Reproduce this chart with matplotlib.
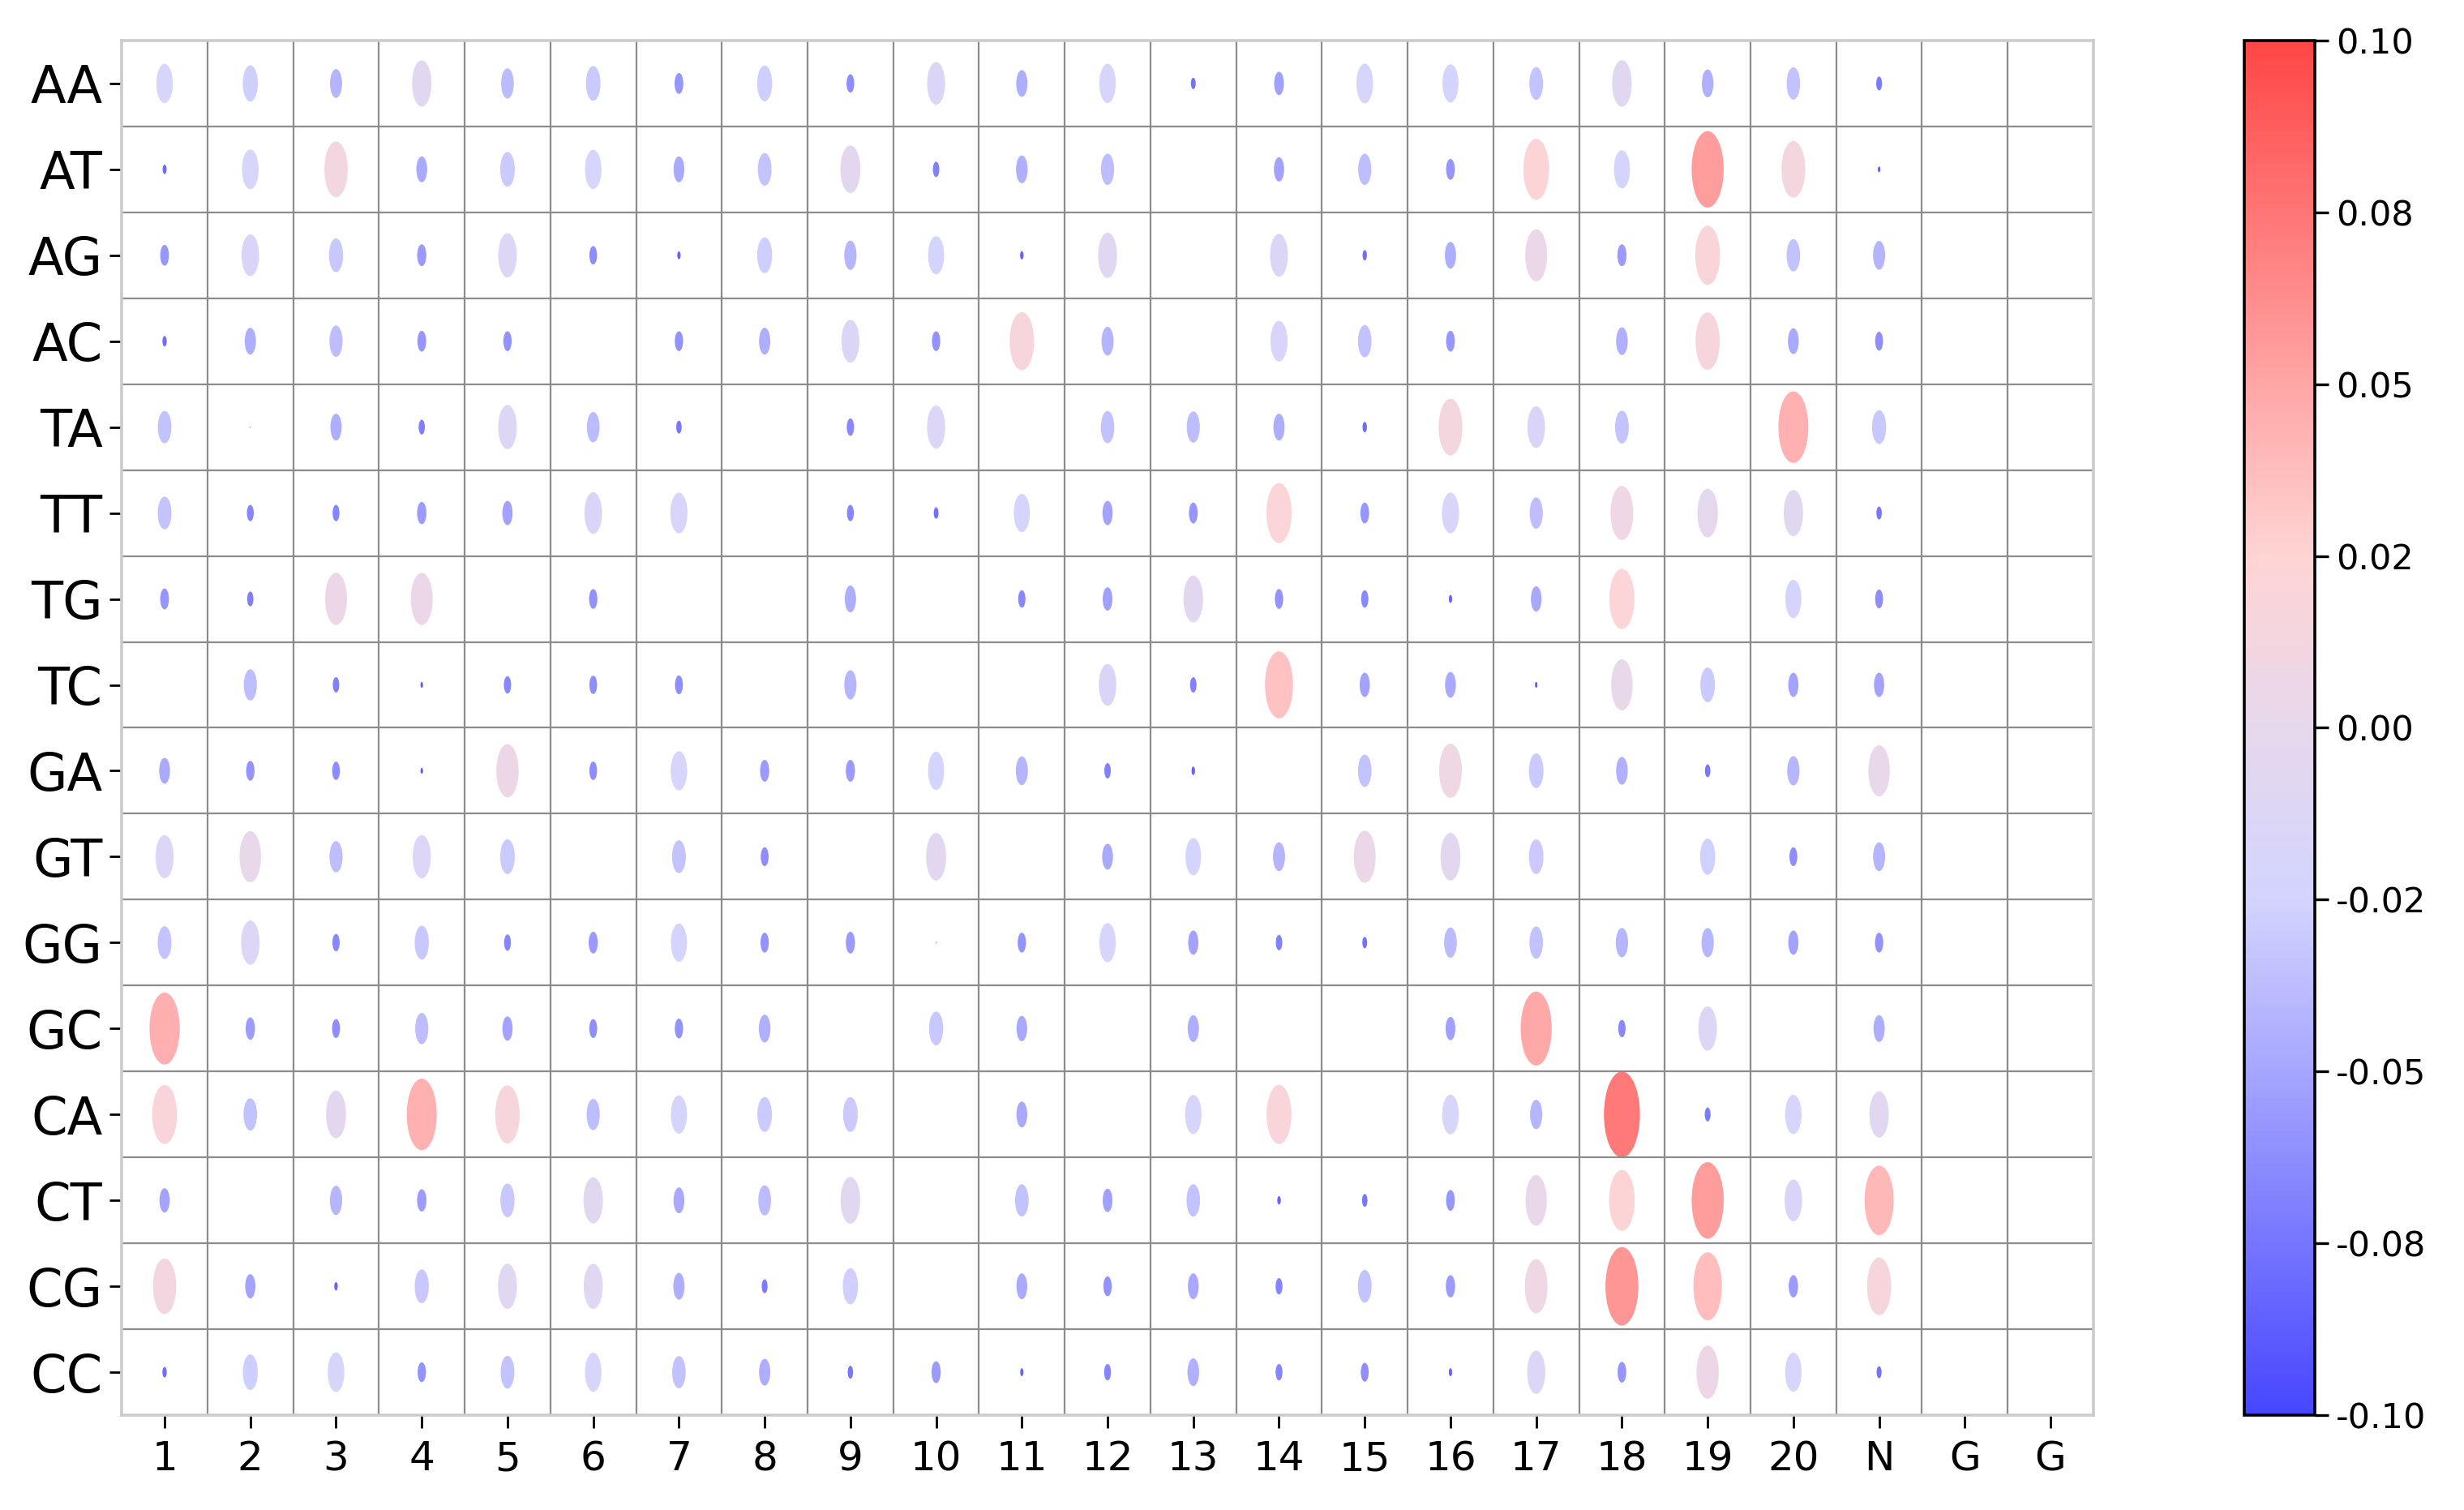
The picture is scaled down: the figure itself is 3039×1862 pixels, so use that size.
import numpy as np
import matplotlib.pyplot as plt
from matplotlib.collections import EllipseCollection
from matplotlib.colors import LinearSegmentedColormap, Normalize
from matplotlib.cm import ScalarMappable

nan = np.nan

row_labels = ['AA', 'AT', 'AG', 'AC', 'TA', 'TT', 'TG', 'TC',
              'GA', 'GT', 'GG', 'GC', 'CA', 'CT', 'CG', 'CC']
col_labels = [str(i) for i in range(1, 21)] + ['N', 'G', 'G']

# values per dinucleotide row, positions 1..20 and N (G G columns are empty)
aa = [-0.021, -0.027, -0.042, -0.007, -0.039, -0.030, -0.058, -0.028, -0.063, -0.014, -0.046,
      -0.021, -0.077, -0.053, -0.020, -0.023, -0.034, -0.006, -0.044, -0.035, -0.072]
at = [-0.081, -0.020, 0.012, -0.048, -0.030, -0.021, -0.048, -0.034, -0.004, -0.069, -0.044,
      -0.037, nan, -0.051, -0.037, -0.058, 0.023, -0.023, 0.054, 0.014, -0.088]
ag = [-0.058, -0.016, -0.032, -0.056, -0.011, -0.063, -0.084, -0.028, -0.041, -0.023, -0.083,
      -0.009, nan, -0.014, -0.079, -0.046, 0.005, -0.056, 0.019, -0.035, -0.042]
ac = [-0.079, -0.046, -0.037, -0.058, -0.060, nan, -0.060, -0.046, -0.014, -0.060, 0.017,
      -0.042, nan, -0.018, -0.035, -0.058, nan, -0.044, 0.016, -0.048, -0.062]
ta = [-0.035, -0.097, -0.046, -0.070, -0.011, -0.039, -0.074, nan, -0.065, -0.013, nan,
      -0.035, -0.037, -0.046, -0.079, 0.014, -0.016, -0.034, nan, 0.044, -0.032]
tt = [-0.034, -0.067, -0.067, -0.055, -0.051, -0.016, -0.018, nan, -0.067, -0.077, -0.023,
      -0.051, -0.058, 0.021, -0.058, -0.018, -0.037, 0.009, -0.002, -0.007, -0.074]
tg = [-0.058, -0.070, 0.005, 0.005, nan, -0.060, nan, nan, -0.046, nan, -0.065,
      -0.053, -0.006, -0.060, -0.065, -0.084, -0.049, 0.021, nan, -0.023, -0.062]
tc = [nan, -0.037, -0.069, -0.088, -0.065, -0.063, -0.062, nan, -0.041, nan, nan,
      -0.016, -0.069, 0.035, -0.051, -0.048, -0.088, 0.003, -0.030, -0.051, -0.051]
ga = [-0.048, -0.060, -0.063, -0.088, 0.007, -0.063, -0.021, -0.056, -0.056, -0.023, -0.042,
      -0.069, -0.083, nan, -0.035, 0.009, -0.030, -0.044, -0.074, -0.041, 0.003]
gt = [-0.013, 0.003, -0.037, -0.013, -0.030, nan, -0.034, -0.062, nan, -0.004, nan,
      -0.048, -0.025, -0.042, 0.005, -0.004, -0.030, nan, -0.027, -0.062, -0.042]
gg = [-0.034, -0.011, -0.065, -0.032, -0.067, -0.056, -0.023, -0.060, -0.056, -0.097, -0.060,
      -0.021, -0.051, -0.069, -0.077, -0.039, -0.035, -0.041, -0.041, -0.051, -0.060]
gc = [0.045, -0.055, -0.062, -0.037, -0.051, -0.062, -0.060, -0.044, nan, -0.032, -0.049,
      nan, -0.046, nan, nan, -0.053, 0.049, -0.065, -0.011, nan, -0.046]
ca = [0.019, -0.035, -0.004, 0.044, 0.017, -0.037, -0.023, -0.030, -0.030, nan, -0.048,
      nan, -0.021, 0.019, nan, -0.020, -0.041, 0.073, -0.072, -0.021, -0.007]
ct = [-0.051, nan, -0.041, -0.055, -0.032, -0.007, -0.048, -0.039, -0.006, nan, -0.035,
      -0.053, -0.035, -0.083, -0.074, -0.058, 0.002, 0.023, 0.054, -0.016, 0.040]
cg = [0.012, -0.051, -0.083, -0.032, -0.009, -0.009, -0.046, -0.072, -0.027, nan, -0.048,
      -0.060, -0.048, -0.067, -0.034, -0.055, 0.009, 0.058, 0.037, -0.055, 0.016]
cc = [-0.079, -0.028, -0.020, -0.060, -0.034, -0.021, -0.035, -0.046, -0.074, -0.056, -0.084,
      -0.067, -0.044, -0.067, -0.062, -0.084, -0.013, -0.058, 0.007, -0.021, -0.076]

cbar_ticks = [-0.10, -0.075, -0.05, -0.025, 0.0, 0.025, 0.05, 0.075, 0.10]
cbar_labels = ['-0.10', '-0.08', '-0.05', '-0.02', '0.00', '0.02', '0.05', '0.08', '0.10']

vals = np.array([aa, at, ag, ac, ta, tt, tg, tc, ga, gt, gg, gc, ca, ct, cg, cc])
vals = np.hstack([vals, np.full((len(row_labels), 2), nan)])

cmap = LinearSegmentedColormap.from_list('bwr_soft', [
    (0.0, '#4646ff'), (0.25, '#a6a6ff'), (0.375, '#d4d4ff'), (0.5, '#e6d8ec'),
    (0.625, '#ffd4d4'), (0.75, '#ffa6a6'), (1.0, '#ff4646')])
norm = Normalize(vmin=-0.1, vmax=0.1)

fig = plt.figure(figsize=(15.195, 9.31), dpi=200)
ax = fig.add_axes([0.0494, 0.0628, 0.8002, 0.9104])

yy, xx = np.nonzero(~np.isnan(vals))
v = vals[yy, xx]
size = (v - norm.vmin) / (np.nanmax(vals) - norm.vmin)

ec = EllipseCollection(widths=0.42 * size, heights=size, angles=0, units='xy',
                       offsets=np.column_stack([xx + 1, yy + 1]),
                       offset_transform=ax.transData, cmap=cmap, norm=norm)
ec.set_array(v)
ax.add_collection(ec)

ax.set_xlim(0.5, len(col_labels) + 0.5)
ax.set_ylim(len(row_labels) + 0.5, 0.5)
ax.set_xticks(np.arange(1, len(col_labels) + 1))
ax.set_xticklabels(col_labels)
ax.set_yticks(np.arange(1, len(row_labels) + 1))
ax.set_yticklabels(row_labels)
ax.set_xticks(np.arange(1.5, len(col_labels)), minor=True)
ax.set_yticks(np.arange(1.5, len(row_labels)), minor=True)
ax.grid(which='minor', color='#8c8c8c', lw=0.8)
ax.tick_params(which='minor', length=0)
ax.tick_params(axis='x', labelsize=18, length=5.8, width=1, pad=5)
ax.tick_params(axis='y', labelsize=23, length=5.5, width=1, pad=3)
for s in ax.spines.values():
    s.set_color('#cccccc')
    s.set_linewidth(1.3)

cax = fig.add_axes([0.9108, 0.0628, 0.0286, 0.9104])
cb = fig.colorbar(ScalarMappable(norm=norm, cmap=cmap), cax=cax, ticks=cbar_ticks)
cb.ax.set_yticklabels(cbar_labels)
cb.ax.tick_params(labelsize=15.5, length=6, width=1.2)
cb.outline.set_linewidth(1.3)

fig.savefig('out.png', dpi=200)
